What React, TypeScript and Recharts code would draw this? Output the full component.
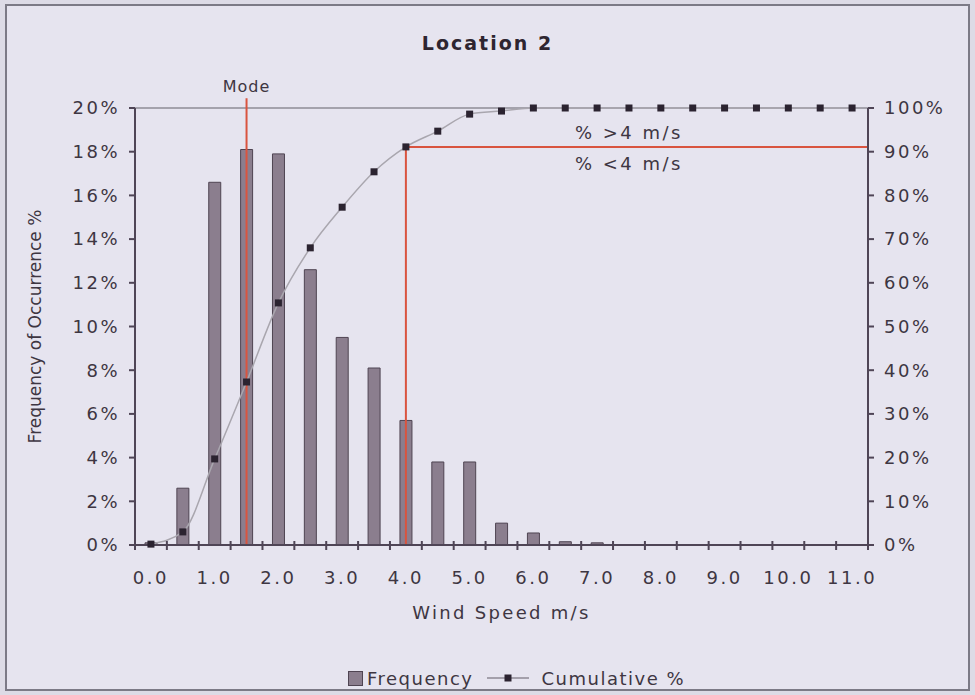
import {
  ComposedChart, Bar, Line, XAxis, YAxis, ReferenceLine, ReferenceArea, Legend, Label,
} from 'recharts'

const speeds = [
  '0.0', '0.5', '1.0', '1.5', '2.0', '2.5', '3.0', '3.5', '4.0', '4.5', '5.0', '5.5',
  '6.0', '6.5', '7.0', '7.5', '8.0', '8.5', '9.0', '9.5', '10.0', '10.5', '11.0',
]
const frequency = [
  0.1, 2.6, 16.6, 18.1, 17.9, 12.6, 9.5, 8.1, 5.7, 3.8, 3.8, 1.0,
  0.55, 0.15, 0.1, 0, 0, 0, 0, 0, 0, 0, 0,
]
const cumulative = [
  0.2, 3.0, 19.7, 37.3, 55.4, 68.0, 77.3, 85.4, 91.1, 94.7, 98.6, 99.3,
  100, 100, 100, 100, 100, 100, 100, 100, 100, 100, 100,
]
const leftTicks = [0, 2, 4, 6, 8, 10, 12, 14, 16, 18, 20]
const rightTicks = [0, 10, 20, 30, 40, 50, 60, 70, 80, 90, 100]

const MODE = '1.5'
const THRESHOLD = '4.0'
const THRESHOLD_CUM = 91.1

const BG = '#e6e4ef'
const TEXT = '#3e3642'
const AXIS = '#4f4556'
const RED = '#d9543f'
const BAR = '#8b7e8e'
const BAR_EDGE = '#4f4452'
const FONT = '"DejaVu Sans", Verdana, sans-serif'

// layout
const W = 975
const H = 695
const MARGIN = { top: 108, right: 27, bottom: 2, left: 20 }
const LEFT_AXIS_W = 115
const RIGHT_AXIS_W = 80
const PLOT_W = W - MARGIN.left - MARGIN.right - LEFT_AXIS_W - RIGHT_AXIS_W
const X_TICK_SIZE = 6
const X_TICK_MARGIN = 20

const chartData = speeds.map((s, i) => ({
  speed: s,
  frequency: frequency[i],
  cumulative: cumulative[i],
}))

const tickStyle = { fill: TEXT, fontSize: 18, fontFamily: FONT, letterSpacing: 2.5 }
const axisLineStyle = { stroke: AXIS, strokeWidth: 2 }
const tickLineStyle = { stroke: AXIS, strokeWidth: 2 }

function SquareDot(props: any) {
  const { cx, cy } = props
  if (cx == null || cy == null) return null
  return <rect x={cx - 3.5} y={cy - 3.5} width={7} height={7} fill="#2b2330" />
}

// tick marks sit on the bin edges, labels only on whole m/s values
function SpeedTick(props: any) {
  const { x, y, payload, index } = props
  const axisY = y - X_TICK_SIZE - X_TICK_MARGIN
  const half = PLOT_W / speeds.length / 2
  const whole = index % 2 === 0
  return (
    <g>
      <rect x={x - half - 1} y={axisY - 4} width={2} height={9} fill={AXIS} />
      {index === speeds.length - 1 && (
        <rect x={x + half - 1} y={axisY - 4} width={2} height={9} fill={AXIS} />
      )}
      {whole && (
        <text x={x} y={y} dy="0.71em" textAnchor="middle" {...tickStyle}>{payload.value}</text>
      )}
    </g>
  )
}

function LegendContent() {
  return (
    <div style={{
      display: 'flex', justifyContent: 'center', alignItems: 'center', height: 30,
      paddingLeft: 58, fontFamily: FONT, fontSize: 18, letterSpacing: 1.5, color: TEXT,
    }}>
      <span style={{ width: 13, height: 13, background: BAR, border: `1px solid ${BAR_EDGE}`, marginRight: 4 }} />
      <span>Frequency</span>
      <svg width={42} height={12} style={{ margin: '0 12px 0 14px' }}>
        <line x1={0} y1={6} x2={42} y2={6} stroke="#8e8a94" strokeWidth={1.5} />
        <rect x={17.5} y={2.5} width={7} height={7} fill="#2b2330" />
      </svg>
      <span>Cumulative %</span>
    </div>
  )
}

export default function App() {
  return (
    <div style={{ position: 'absolute', left: 0, top: 0, width: W, height: H, background: '#dddbe6' }}>
      <div style={{
        position: 'absolute', left: 5, top: 4, width: 961, height: 683,
        border: '2px solid #7c7a86', background: BG,
      }} />
      <div style={{
        position: 'absolute', left: 0, top: 31, width: W, textAlign: 'center',
        fontFamily: FONT, fontWeight: 'bold', fontSize: 19, letterSpacing: 2, lineHeight: '24px', color: '#2e2530',
      }}>
        Location 2
      </div>
      <div style={{ position: 'absolute', left: 0, top: 0 }}>
        <ComposedChart
          width={W}
          height={H}
          data={chartData}
          margin={MARGIN}
          barSize={12}
        >
          <XAxis
            dataKey="speed"
            interval={0}
            height={118}
            axisLine={axisLineStyle}
            tickLine={false}
            tickSize={X_TICK_SIZE}
            tickMargin={X_TICK_MARGIN}
            tick={<SpeedTick />}
            label={{
              content: (p: any) => {
                const vb = p.viewBox
                return (
                  <text x={vb.x + vb.width / 2} y={vb.y + 74} textAnchor="middle"
                    fill={TEXT} fontSize={18} fontFamily={FONT} letterSpacing={2.3}>
                    Wind Speed m/s
                  </text>
                )
              },
            }}
          />
          <YAxis
            yAxisId="left"
            width={LEFT_AXIS_W}
            domain={[0, 20]}
            ticks={leftTicks}
            tickFormatter={(v: number) => `${v}%`}
            tick={tickStyle}
            tickSize={6}
            tickMargin={9}
            axisLine={axisLineStyle}
            tickLine={tickLineStyle}
            label={{
              content: (p: any) => {
                const vb = p.viewBox
                const cx = vb.x + 15
                const cy = vb.y + vb.height / 2
                return (
                  <text x={cx} y={cy} transform={`rotate(-90 ${cx} ${cy})`} textAnchor="middle"
                    dominantBaseline="central" fill={TEXT} fontSize={17} fontFamily={FONT}>
                    Frequency of Occurrence %
                  </text>
                )
              },
            }}
          />
          <YAxis
            yAxisId="right"
            orientation="right"
            width={RIGHT_AXIS_W}
            domain={[0, 100]}
            ticks={rightTicks}
            tickFormatter={(v: number) => `${v}%`}
            tick={tickStyle}
            tickSize={6}
            tickMargin={10}
            axisLine={axisLineStyle}
            tickLine={tickLineStyle}
          />
          <ReferenceArea
            yAxisId="left"
            y1={0}
            y2={20}
            fill="none"
            stroke={AXIS}
            strokeWidth={2}
            ifOverflow="visible"
          />
          <ReferenceLine yAxisId="left" y={20} stroke="#a4a2ac" strokeWidth={2} />
          <Bar
            yAxisId="left"
            dataKey="frequency"
            name="Frequency"
            fill={BAR}
            stroke={BAR_EDGE}
            strokeWidth={1}
            isAnimationActive={false}
          />
          <ReferenceLine
            yAxisId="left"
            segment={[{ x: MODE, y: 0 }, { x: MODE, y: 20.45 }]}
            ifOverflow="visible"
            stroke={RED}
            strokeWidth={2}
            label={{ value: 'Mode', position: 'top', offset: 6, fill: TEXT, fontSize: 16, fontFamily: FONT, letterSpacing: 1 }}
          />
          <ReferenceLine
            yAxisId="right"
            segment={[{ x: THRESHOLD, y: 0 }, { x: THRESHOLD, y: THRESHOLD_CUM }]}
            stroke={RED}
            strokeWidth={2}
          />
          <ReferenceLine
            yAxisId="right"
            segment={[{ x: THRESHOLD, y: THRESHOLD_CUM }, { x: speeds[speeds.length - 1], y: THRESHOLD_CUM }]}
            stroke={RED}
            strokeWidth={2}
            shape={(p: any) => {
              const halfBand = (p.x2 - p.x1) / ((speeds.length - speeds.indexOf(THRESHOLD) - 1) * 2)
              return <line x1={p.x1} y1={p.y1} x2={p.x2 + halfBand} y2={p.y2} stroke={RED} strokeWidth={2} />
            }}
          >
            <Label value="% >4 m/s" position="top" offset={8} fill={TEXT} fontSize={18} fontFamily={FONT} letterSpacing={2.5} />
            <Label value="% <4 m/s" position="bottom" offset={10} fill={TEXT} fontSize={18} fontFamily={FONT} letterSpacing={2.5} />
          </ReferenceLine>
          <Line
            yAxisId="right"
            dataKey="cumulative"
            name="Cumulative %"
            type="monotone"
            stroke="#a9a6ae"
            strokeWidth={1.5}
            dot={<SquareDot />}
            activeDot={false}
            isAnimationActive={false}
          />
          <Legend verticalAlign="bottom" wrapperStyle={{ left: 0, width: W }} content={<LegendContent />} />
        </ComposedChart>
      </div>
    </div>
  )
}
